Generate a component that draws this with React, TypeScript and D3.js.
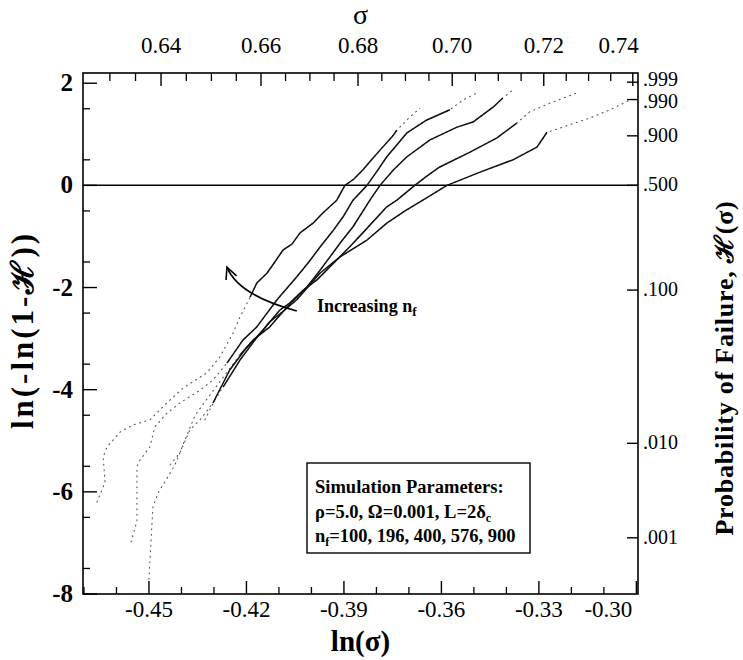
import React from 'react';
import * as d3 from 'd3';

const W = 743;
const H = 660;

// axis domains (ln sigma, ln(-ln(1-H)))
const xDomain = [-0.4703, -0.2995];
const yDomain = [-8, 2.2];

const bottomMajor = [-0.45, -0.42, -0.39, -0.36, -0.33, -0.3];
const bottomLabels = ['-0.45', '-0.42', '-0.39', '-0.36', '-0.33', '-0.30'];
const bottomMinor = [-0.47, -0.46, -0.44, -0.43, -0.41, -0.4, -0.38, -0.37, -0.35, -0.34, -0.32, -0.31];

const leftMajor = [2, 0, -2, -4, -6, -8];
const leftLabels = ['2', '0', '-2', '-4', '-6', '-8'];

const topMajor = [0.64, 0.66, 0.68, 0.7, 0.72, 0.74];
const topLabels = ['0.64', '0.66', '0.68', '0.70', '0.72', '0.74'];
const topMinor = [0.63, 0.635, 0.645, 0.65, 0.655, 0.665, 0.67, 0.675, 0.685, 0.69, 0.695, 0.705, 0.71, 0.715, 0.725, 0.73, 0.735];

const rightTickValues = [2.02, 1.68, 0.97, 0, -2.05, -5.05, -6.9];
const rightTickLabels = ['.999', '.990', '.900', '.500', '.100', '.010', '.001'];

// simulation curves, [ln(sigma), ln(-ln(1-H))]
const curve1: [number, number][] = [
  [-0.466, -6.2], [-0.4635, -5.81], [-0.4641, -5.32], [-0.4629, -5.12], [-0.4589, -4.83],
  [-0.4549, -4.69], [-0.4497, -4.59], [-0.4445, -4.26], [-0.4395, -3.97], [-0.4322, -3.67],
  [-0.4282, -3.36], [-0.4241, -2.89], [-0.422, -2.58], [-0.4189, -2.19], [-0.4168, -1.91],
  [-0.4137, -1.72], [-0.4118, -1.55], [-0.4088, -1.27], [-0.406, -1.15], [-0.4035, -0.93],
  [-0.3995, -0.74], [-0.3965, -0.54], [-0.3922, -0.29], [-0.3897, 0.0], [-0.387, 0.12],
  [-0.3842, 0.3], [-0.3815, 0.5], [-0.3789, 0.69], [-0.3752, 0.95], [-0.3737, 1.08],
  [-0.3697, 1.34], [-0.3666, 1.51],
];
const curve2: [number, number][] = [
  [-0.4555, -6.98], [-0.4537, -6.57], [-0.4537, -5.51], [-0.4528, -5.38], [-0.4497, -5.12],
  [-0.4482, -4.73], [-0.4445, -4.46], [-0.4405, -4.26], [-0.4343, -4.01], [-0.4303, -3.81],
  [-0.426, -3.48], [-0.4211, -3.03], [-0.4168, -2.77], [-0.4106, -2.24], [-0.4045, -1.79],
  [-0.4008, -1.5], [-0.3974, -1.21], [-0.3935, -0.9], [-0.3903, -0.62], [-0.3872, -0.29],
  [-0.3829, 0.0], [-0.3798, 0.28], [-0.3768, 0.56], [-0.3736, 0.8], [-0.3706, 1.03],
  [-0.3645, 1.28], [-0.3574, 1.48], [-0.3534, 1.67], [-0.3491, 1.81],
];
const curve3: [number, number][] = [
  [-0.45, -7.71], [-0.4488, -6.3], [-0.4472, -6.02], [-0.4442, -5.71], [-0.442, -5.47],
  [-0.4389, -4.98], [-0.4358, -4.5], [-0.4312, -4.1], [-0.4266, -3.71], [-0.422, -3.32],
  [-0.418, -3.03], [-0.4128, -2.77], [-0.4075, -2.38], [-0.4014, -1.99], [-0.3978, -1.7],
  [-0.3943, -1.4], [-0.3908, -1.1], [-0.3872, -0.81], [-0.382, -0.29], [-0.3789, 0.0],
  [-0.3748, 0.3], [-0.3706, 0.56], [-0.3635, 0.89], [-0.3552, 1.14], [-0.3503, 1.24],
  [-0.3441, 1.53], [-0.3411, 1.71], [-0.338, 1.87],
];
const curve4: [number, number][] = [
  [-0.4435, -5.47], [-0.4405, -5.24], [-0.4374, -4.79], [-0.4343, -4.59], [-0.4303, -4.26],
  [-0.4251, -3.61], [-0.4205, -3.22], [-0.4149, -2.83], [-0.4097, -2.44], [-0.4066, -2.3],
  [-0.4025, -2.05], [-0.3983, -1.85], [-0.3922, -1.46], [-0.3882, -1.2], [-0.3842, -0.93],
  [-0.3768, -0.42], [-0.3737, -0.29], [-0.3682, 0.0], [-0.3645, 0.18], [-0.3605, 0.36],
  [-0.3512, 0.65], [-0.3429, 0.93], [-0.3368, 1.22], [-0.3328, 1.44], [-0.3266, 1.61],
  [-0.3183, 1.81],
];
const curve5: [number, number][] = [
  [-0.4328, -4.59], [-0.4297, -4.2], [-0.4272, -3.95], [-0.422, -3.42], [-0.4174, -3.03],
  [-0.4128, -2.67], [-0.4082, -2.44], [-0.4045, -2.24], [-0.3974, -1.72], [-0.3912, -1.4],
  [-0.3829, -1.07], [-0.3768, -0.74], [-0.3712, -0.5], [-0.3657, -0.29], [-0.3583, 0.0],
  [-0.3481, 0.26], [-0.338, 0.5], [-0.3306, 0.75], [-0.3275, 1.04], [-0.3226, 1.14],
  [-0.3143, 1.32], [-0.3081, 1.48], [-0.302, 1.67],
];
const curves = [curve1, curve2, curve3, curve4, curve5];
// y-range in which each curve is dense enough to read as a solid line
const solidLow = [-2.2, -3.6, -3.4, -4.3, -4.0];
const solidHigh = [1.1, 1.5, 1.75, 1.25, 1.1];

// annotation arrow in data coordinates
const arrowPts: [number, number][] = [[-0.4045, -2.46], [-0.4189, -2.09], [-0.426, -1.6]];
const annotAt: [number, number] = [-0.3983, -2.46];

const plotLeft = 83;
const plotRight = 638;
const plotTop = 73;
const plotBottom = 594;

const FONT = "'Liberation Serif', 'Times New Roman', Times, 'DejaVu Serif', serif";

export default function App() {
  const x = d3.scaleLinear().domain(xDomain).range([plotLeft, plotRight]);
  const y = d3.scaleLinear().domain(yDomain).range([plotBottom, plotTop]);
  const line = d3.line<[number, number]>().x(d => x(d[0])).y(d => y(d[1]));

  const p0 = [x(arrowPts[0][0]), y(arrowPts[0][1])];
  const pm = [x(arrowPts[1][0]), y(arrowPts[1][1])];
  const p2 = [x(arrowPts[2][0]), y(arrowPts[2][1])];
  const c = [2 * pm[0] - (p0[0] + p2[0]) / 2, 2 * pm[1] - (p0[1] + p2[1]) / 2];
  const ang = Math.atan2(p2[1] - c[1], p2[0] - c[0]);
  const ah = 13;
  const a1 = [p2[0] - ah * Math.cos(ang - 0.45), p2[1] - ah * Math.sin(ang - 0.45)];
  const a2 = [p2[0] - ah * Math.cos(ang + 0.45), p2[1] - ah * Math.sin(ang + 0.45)];

  const txt = { fontFamily: FONT } as React.CSSProperties;

  return (
    <svg width={W} height={H} style={{ position: 'absolute', left: 0, top: 0, display: 'block', background: '#fff', fontFamily: FONT }}>
      <rect x={0} y={0} width={W} height={H} fill="#fff" />
      <rect x={plotLeft} y={plotTop} width={plotRight - plotLeft} height={plotBottom - plotTop}
        fill="none" stroke="#000" strokeWidth={1.6} />
      <line x1={plotLeft} x2={plotRight} y1={y(0)} y2={y(0)} stroke="#000" strokeWidth={1.5} />

      {/* bottom axis */}
      {bottomMajor.map((v, i) => (
        <g key={'bm' + i}>
          <line x1={x(v)} x2={x(v)} y1={plotBottom} y2={plotBottom - 13} stroke="#000" strokeWidth={1.4} />
          <text style={txt} x={i === bottomMajor.length - 1 ? x(v) - 4 : x(v)} y={plotBottom + 23}
            textAnchor={i === bottomMajor.length - 1 ? 'end' : 'middle'} fontSize={23}>{bottomLabels[i]}</text>
        </g>
      ))}
      {bottomMinor.map((v, i) => (
        <line key={'bn' + i} x1={x(v)} x2={x(v)} y1={plotBottom} y2={plotBottom - 7} stroke="#000" strokeWidth={1.3} />
      ))}

      {/* top axis (sigma) */}
      {topMajor.map((v, i) => (
        <g key={'tm' + i}>
          <line x1={x(Math.log(v))} x2={x(Math.log(v))} y1={plotTop} y2={plotTop + 13} stroke="#000" strokeWidth={1.4} />
          <text style={txt} x={i === topMajor.length - 1 ? x(Math.log(v)) + 6 : x(Math.log(v))} y={plotTop - 20}
            textAnchor={i === topMajor.length - 1 ? 'end' : 'middle'} fontSize={23}>{topLabels[i]}</text>
        </g>
      ))}
      {topMinor.map((v, i) => (
        <line key={'tn' + i} x1={x(Math.log(v))} x2={x(Math.log(v))} y1={plotTop} y2={plotTop + 8} stroke="#000" strokeWidth={1.3} />
      ))}

      {/* left axis */}
      {leftMajor.map((v, i) => (
        <g key={'lm' + i}>
          <line x1={plotLeft} x2={plotLeft + 14} y1={y(v)} y2={y(v)} stroke="#000" strokeWidth={1.4} />
          <text style={txt} x={plotLeft - 10} y={y(v) + 8} textAnchor="end" fontSize={25} fontWeight="bold">{leftLabels[i]}</text>
        </g>
      ))}
      {d3.range(-7.5, 2.2, 1).map((v, i) => (
        <line key={'ln' + i} x1={plotLeft} x2={plotLeft + 7} y1={y(v)} y2={y(v)} stroke="#000" strokeWidth={1.3} />
      ))}

      {/* right axis (probability) */}
      {rightTickValues.map((v, i) => (
        <g key={'r' + i}>
          <line x1={plotRight - 11} x2={plotRight} y1={y(v)} y2={y(v)} stroke="#000" strokeWidth={1.4} />
          <text style={txt} x={plotRight + 5} y={y(v) + 6 + (i === 0 ? -2 : i === 1 ? 2 : 0)} textAnchor="start" fontSize={20}>{rightTickLabels[i]}</text>
        </g>
      ))}

      {/* curves: sparse tails dotted, dense part solid */}
      {curves.map((cv, i) => (
        <path key={'cd' + i} d={line(cv) || ''} fill="none" stroke="#555" strokeWidth={1.1}
          strokeDasharray="1 4.5" strokeLinecap="round" />
      ))}
      {curves.map((cv, i) => (
        <path key={'cs' + i} d={line(cv.filter(p => p[1] >= solidLow[i] && p[1] <= solidHigh[i])) || ''}
          fill="none" stroke="#111" strokeWidth={1.5} strokeLinejoin="round" />
      ))}

      {/* annotation */}
      <path d={`M${p0[0]},${p0[1]} Q${c[0]},${c[1]} ${p2[0]},${p2[1]}`} fill="none" stroke="#000" strokeWidth={1.6} />
      <path d={`M${a1[0]},${a1[1]} L${p2[0]},${p2[1]} L${a2[0]},${a2[1]}`} fill="none" stroke="#000" strokeWidth={1.6} />
      <text style={txt} x={x(annotAt[0])} y={y(annotAt[1]) + 1} fontSize={18} fontWeight="bold">
        Increasing n<tspan fontSize={13} dy={4}>f</tspan>
      </text>

      {/* parameter box */}
      <rect x={307} y={463} width={223} height={90} fill="#fff" stroke="#000" strokeWidth={1.4} />
      <g fontSize={18.5} fontWeight="bold" style={txt}>
        <text style={txt} x={315} y={493}>Simulation Parameters:</text>
        <text style={txt} x={315} y={518}>ρ=5.0, Ω=0.001, L=2δ<tspan fontSize={12} dy={4}>c</tspan></text>
        <text style={txt} x={315} y={542}>n<tspan fontSize={12} dy={4}>f</tspan><tspan dy={-4}>=100, 196, 400, 576, 900</tspan></text>
      </g>

      {/* axis titles */}
      <text style={txt} x={(plotLeft + plotRight) / 2} y={24} textAnchor="middle" fontSize={28}>σ</text>
      <text style={txt} x={(plotLeft + plotRight) / 2} y={651} textAnchor="middle" fontSize={29} fontWeight="bold">ln(σ)</text>
      <text style={{ ...txt, letterSpacing: '3px' }} transform={`translate(33, 330) rotate(-90)`} textAnchor="middle"
        fontSize={31} fontWeight="bold">ln(-ln(1-ℋ))</text>
      <text style={{ ...txt, letterSpacing: '0.8px' }} transform={`translate(733, 368) rotate(-90)`} textAnchor="middle" fontSize={26} fontWeight="bold">
        Probability of Failure, ℋ(σ)
      </text>
    </svg>
  );
}
